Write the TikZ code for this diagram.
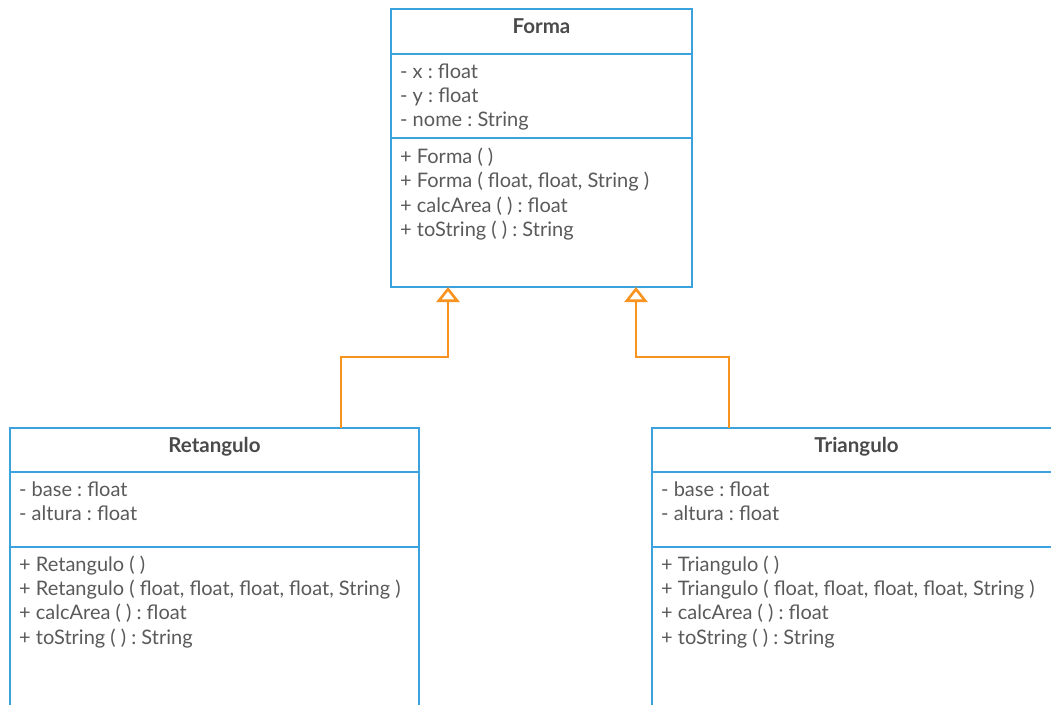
\documentclass[tikz,border=0pt]{standalone}
\usepackage{fontspec}
\setmainfont{Lato}
\usetikzlibrary{arrows.meta,positioning}
\definecolor{umlblue}{HTML}{3BA2DD}
\definecolor{umlorange}{HTML}{F7931E}
\definecolor{titlegray}{HTML}{4A4A4A}
\definecolor{textgray}{HTML}{5A5A5A}
\frenchspacing

\begin{document}
\begin{tikzpicture}[x=1pt, y=-1pt,
  classname/.style={draw=umlblue, line width=2.7pt, fill=white, inner sep=0pt,
                    outer sep=0pt, minimum height=#1, text height=13pt, text depth=9pt,
                    font=\bfseries\fontsize{20.5}{24}\selectfont, text=titlegray},
  compartment/.style={draw=umlblue, line width=2.7pt, fill=white, inner sep=0pt,
                      outer sep=0pt, minimum height=#1},
  members/.style={anchor=base west, align=left, inner sep=0pt,
                  font=\fontsize{20}{24.4}\selectfont, text=textgray},
  inherit/.style={draw=umlorange, line width=2.6pt,
                  -{Triangle[open, length=15pt, width=23pt]}},
]
  \useasboundingbox (0,0) rectangle (1051,704);
  \clip (0,0) rectangle (1051,704);

  % Superclass.
  \node[classname=45pt, minimum width=301pt] (formaname) at (541.5,31.5) {Forma};
  \node[compartment=84pt, minimum width=301pt, below=0pt of formaname] (formaattr) {};
  \node[compartment=149pt, minimum width=301pt, below=0pt of formaattr] (formaops) {};
  \node[members] (formaattrtext) at ([xshift=9pt, yshift=-72.8pt]formaattr.north west)
    {- x : float\\- y : float\\- nome : String};
  \node[members] (formaopstext) at ([xshift=9pt, yshift=-98.5pt]formaops.north west)
    {+ Forma ( )\\+ Forma ( float, float, String )\\+ calcArea ( ) : float\\+ toString ( ) : String};

  % Subclass on the left.
  \node[classname=44pt, minimum width=409pt] (retname) at (214.5,450) {Retangulo};
  \node[compartment=75pt, minimum width=409pt, below=0pt of retname] (retattr) {};
  \node[compartment=213pt, minimum width=409pt, below=0pt of retattr] (retops) {};
  \node[members] (retattrtext) at ([xshift=9pt, yshift=-48.4pt]retattr.north west)
    {- base : float\\- altura : float};
  \node[members] (retopstext) at ([xshift=9pt, yshift=-97.2pt]retops.north west)
    {+ Retangulo ( )\\+ Retangulo ( float, float, float, float, String )\\+ calcArea ( ) : float\\+ toString ( ) : String};

  % Subclass on the right.
  \node[classname=44pt, minimum width=409pt] (triname) at (856.5,450) {Triangulo};
  \node[compartment=75pt, minimum width=409pt, below=0pt of triname] (triattr) {};
  \node[compartment=213pt, minimum width=409pt, below=0pt of triattr] (triops) {};
  \node[members] (triattrtext) at ([xshift=9pt, yshift=-48.4pt]triattr.north west)
    {- base : float\\- altura : float};
  \node[members] (triopstext) at ([xshift=9pt, yshift=-97.2pt]triops.north west)
    {+ Triangulo ( )\\+ Triangulo ( float, float, float, float, String )\\+ calcArea ( ) : float\\+ toString ( ) : String};

  % Generalisation arrows.
  \coordinate (retbend) at (341,357);
  \coordinate (tribend) at (729,357);
  \draw[inherit] (retname.north -| retbend) -- (retbend) -| ([xshift=-93.5pt]formaops.south);
  \draw[inherit] (triname.north -| tribend) -- (tribend) -| ([xshift=94.5pt]formaops.south);
\end{tikzpicture}
\end{document}
